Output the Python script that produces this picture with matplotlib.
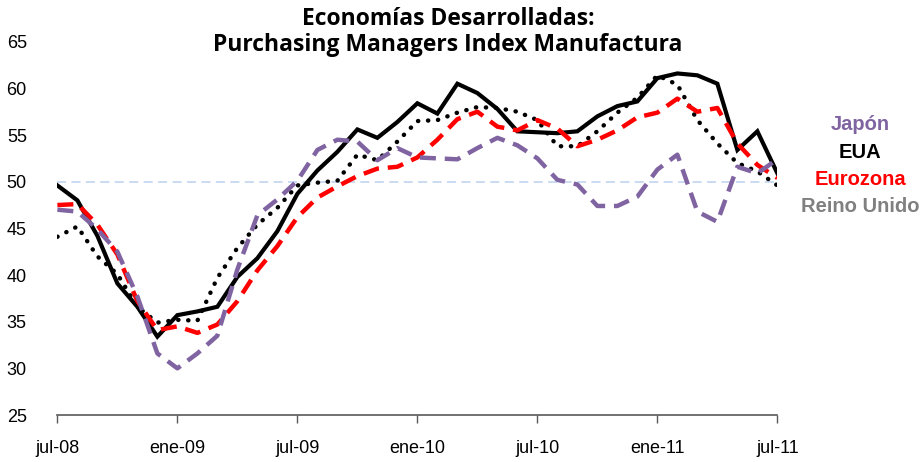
import numpy as np
import matplotlib
matplotlib.use("Agg")
import matplotlib.pyplot as plt

# meses jul-08 .. jul-11
meses = np.arange(37)
etiquetas = ["jul-08", "ene-09", "jul-09", "ene-10", "jul-10", "ene-11", "jul-11"]

eua = [49.6, 48.0, 44.2, 39.1, 36.6, 33.4, 35.7, 36.1, 36.6, 39.8, 41.8, 44.7,
       48.7, 51.2, 53.2, 55.6, 54.7, 56.4, 58.4, 57.3, 60.5, 59.5, 57.8, 55.4,
       55.3, 55.2, 55.4, 57.0, 58.1, 58.6, 61.1, 61.6, 61.4, 60.5, 53.4, 55.4, 50.9]
eurozona = [47.5, 47.6, 45.4, 42.2, 37.2, 34.1, 34.5, 33.8, 34.7, 37.2, 40.5, 43.1,
            46.2, 48.3, 49.5, 50.6, 51.4, 51.6, 52.6, 54.5, 56.7, 57.5, 55.9, 55.5,
            56.6, 55.7, 53.8, 54.5, 55.5, 56.9, 57.4, 58.9, 57.5, 57.9, 54.1, 51.8, 50.4]
japon = [47.0, 46.8, 44.9, 42.5, 37.7, 31.6, 30.0, 31.6, 33.5, 40.6, 46.4, 48.1,
         50.1, 53.4, 54.5, 54.3, 52.3, 53.6, 52.6, 52.5, 52.4, 53.6, 54.7, 53.9,
         52.5, 50.2, 49.7, 47.4, 47.4, 48.4, 51.3, 52.9, 46.8, 45.7, 51.6, 50.9, 52.4]
reino_unido = [44.1, 45.2, 42.0, 40.1, 36.6, 34.9, 35.2, 35.1, 39.7, 42.9, 45.4, 47.2,
               49.6, 49.9, 50.1, 52.9, 52.3, 54.3, 56.5, 56.6, 57.4, 58.0, 57.9, 57.5,
               56.6, 53.8, 53.8, 55.4, 57.4, 59.0, 61.4, 60.4, 56.6, 54.1, 52.0, 51.1, 49.6]

fig = plt.figure(figsize=(9.24, 4.62), dpi=100)
ax = fig.add_axes([0.0621, 0.1017, 0.7792, 0.808])

ax.axhline(50, color="#C6D9F1", lw=1.3, ls=(0, (5, 3)), zorder=1)
ax.plot(meses, eua, color="black", lw=3.0, solid_joinstyle="miter", zorder=3)
ax.plot(meses, reino_unido, color="black", lw=3.2, ls=(0, (0.05, 2.2)),
        dash_capstyle="round", zorder=4)
ax.plot(meses, eurozona, color="#FF0000", lw=3.2, ls=(0, (3.6, 2.0)), zorder=5)
ax.plot(meses, japon, color="#8064A2", lw=3.2, ls=(0, (3.6, 2.0)), zorder=6)

ax.set_xlim(0, 36)
ax.set_ylim(25, 65)
ax.set_yticks(range(25, 66, 5))
ax.set_xticks(range(0, 37, 6))
ax.set_xticklabels(etiquetas, family=["Liberation Sans Narrow", "Liberation Sans"],
                   fontsize=13)
ax.tick_params(axis="y", length=0, pad=22, labelsize=13)
for t in ax.get_yticklabels():
    t.set_family("Liberation Sans")
ax.tick_params(axis="x", direction="out", length=6, width=1, color="#595959", pad=12)
for s in ["left", "right", "top"]:
    ax.spines[s].set_visible(False)
ax.spines["bottom"].set_color("#595959")
ax.spines["bottom"].set_linewidth(1.2)

fig.text(0.485, 1 - 32 / 462, "Economías Desarrolladas:\nPurchasing Managers Index Manufactura",
         ha="center", va="center", family="Open Sans", fontweight="bold", fontsize=16.5,
         linespacing=1.15)

leyenda = [("Japón", "#8064A2"), ("EUA", "black"), ("Eurozona", "#FF0000"),
           ("Reino Unido", "#808080")]
for k, (nombre, color) in enumerate(leyenda):
    fig.text(860 / 924, 1 - (125 + 27.3 * k) / 462, nombre, ha="center", va="center",
             color=color, family="Liberation Sans", fontweight="bold", fontsize=14.5)

fig.savefig("out.png", dpi=100)
